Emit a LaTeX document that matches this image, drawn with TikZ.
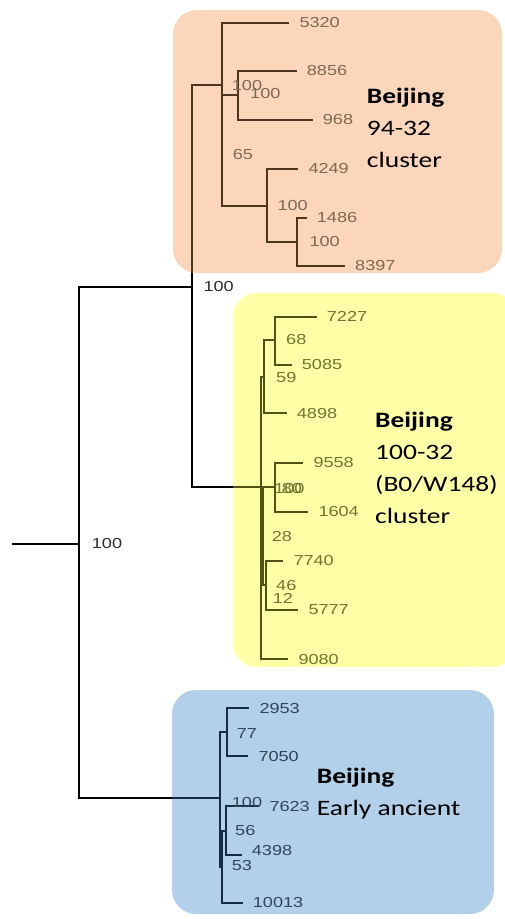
\documentclass[tikz,border=0pt]{standalone}
\usepackage{fontspec}
\usepackage{xcolor}
\usetikzlibrary{positioning}
\newfontfamily\tipfamily[FakeStretch=1.25]{Liberation Sans}
\newfontfamily\namefamily[FakeStretch=1.25]{Carlito}
\newcommand\tipfont{\tipfamily\fontsize{14.5}{16}\selectfont}
\newcommand\cladefont{\namefamily\fontsize{22}{32}\selectfont}
\definecolor{orangebg}{RGB}{251,214,186}
\definecolor{yellowbg}{RGB}{255,255,168}
\definecolor{bluebg}{RGB}{178,208,233}
\definecolor{obranch}{RGB}{78,54,30}
\definecolor{ybranch}{RGB}{82,82,20}
\definecolor{bbranch}{RGB}{22,44,68}
\definecolor{otext}{RGB}{125,105,85}
\definecolor{ytext}{RGB}{115,115,50}
\definecolor{btext}{RGB}{50,68,90}
\definecolor{ktext}{RGB}{45,45,45}

\begin{document}
\begin{tikzpicture}[x=1pt, y=-1pt,
    branch/.style={line width=2pt},
    tipline/.style={branch, shorten >=10pt},
    tip/.style={anchor=west, inner sep=0pt, font=\tipfont},
    clade/.style={rounded corners=24pt},
    cladename/.style={anchor=north west, inner sep=0pt, align=left, font=\cladefont}
]
    \useasboundingbox (0,0) rectangle (504,919);
    \fill[orangebg, clade] (173,10) rectangle (502,273);
    \fill[yellowbg, clade] (233,293) rectangle (516,667);
    \fill[bluebg, clade] (172,690) rectangle (494,914);

    \coordinate (r0) at (12,544);
    \coordinate (nR) at (79,544);
    \coordinate (nU) at (191.7,286.7);
    \coordinate (oEdge) at (191.7,273);
    \coordinate (yEdge) at (233,486.7);
    \coordinate (bEdge) at (172,798.3);

    \draw[branch] (r0) -- (nR) |- (nU);
    \draw[branch] (nR) |- (bEdge);
    \draw[branch] (nU) -- (oEdge);
    \draw[branch] (nU) |- (yEdge);
    \node[tip, text=ktext] (sRoot) at (91.7,544) {100};
    \node[tip, text=ktext] (sUp) at (203.3,287) {100};

    % 94-32 cluster
    \coordinate (nO) at (222,85);
    \coordinate (o100a) at (238,95.3);
    \coordinate (o100b) at (267,206);
    \coordinate (o100c) at (297,242);
    \node[tip, text=otext] (t5320) at (299.3,23) {5320};
    \node[tip, text=otext] (t8856) at (306.7,71) {8856};
    \node[tip, text=otext] (t968) at (322.7,120) {968};
    \node[tip, text=otext] (t4249) at (308.3,169) {4249};
    \node[tip, text=otext] (t1486) at (316.7,218) {1486};
    \node[tip, text=otext] (t8397) at (355,266) {8397};

    \draw[branch, obranch] (oEdge) |- (nO);
    \draw[tipline, obranch] (nO) |- (t5320.west);
    \draw[branch, obranch] (nO) |- (o100a);
    \draw[branch, obranch] (nO) |- (o100b);
    \draw[tipline, obranch] (o100a) |- (t8856.west);
    \draw[tipline, obranch] (o100a) |- (t968.west);
    \draw[tipline, obranch] (o100b) |- (t4249.west);
    \draw[branch, obranch] (o100b) |- (o100c);
    \draw[tipline, obranch] (o100c) |- (t1486.west);
    \draw[tipline, obranch] (o100c) |- (t8397.west);

    \node[tip, text=otext] (sO1) at (231.7,86) {100};
    \node[tip, text=otext] (sO2) at (250,94) {100};
    \node[tip, text=otext] (sO3) at (232.7,155) {65};
    \node[tip, text=otext] (sO4) at (277.3,206) {100};
    \node[tip, text=otext] (sO5) at (309.3,242) {100};

    % 100-32 cluster
    \coordinate (nY) at (260.5,486.7);
    \coordinate (y59) at (264.3,377.3);
    \coordinate (y68) at (275,340);
    \coordinate (y28) at (262.8,533);
    \coordinate (y100) at (275,486.7);
    \coordinate (y46) at (265.5,585);
    \node[tip, text=ytext] (t7227) at (326.7,316.7) {7227};
    \node[tip, text=ytext] (t5085) at (301.7,365) {5085};
    \node[tip, text=ytext] (t4898) at (296.7,413.3) {4898};
    \node[tip, text=ytext] (t9558) at (313.3,462.7) {9558};
    \node[tip, text=ytext] (t1604) at (318.3,511.7) {1604};
    \node[tip, text=ytext] (t7740) at (293.3,560.7) {7740};
    \node[tip, text=ytext] (t5777) at (308.3,610) {5777};
    \node[tip, text=ytext] (t9080) at (298.3,659.3) {9080};

    \draw[branch, ybranch] (yEdge) -- (nY);
    \draw[branch, ybranch] (nY) |- (y59);
    \draw[branch, ybranch] (nY) |- (y28);
    \draw[tipline, ybranch] (nY) |- (t9080.west);
    \draw[branch, ybranch] (y59) |- (y68);
    \draw[tipline, ybranch] (y59) |- (t4898.west);
    \draw[tipline, ybranch] (y68) |- (t7227.west);
    \draw[tipline, ybranch] (y68) |- (t5085.west);
    \draw[branch, ybranch] (y28) |- (y100);
    \draw[branch, ybranch] (y28) |- (y46);
    \draw[tipline, ybranch] (y100) |- (t9558.west);
    \draw[tipline, ybranch] (y100) |- (t1604.west);
    \draw[tipline, ybranch] (y46) |- (t7740.west);
    \draw[tipline, ybranch] (y46) |- (t5777.west);

    \node[tip, text=ytext] (sY1) at (286,340) {68};
    \node[tip, text=ytext] (sY2) at (276,377.3) {59};
    \node[tip, text=ytext] (sY3) at (274,489) {100};
    \node[tip, text=ytext] (sY4) at (281.7,489) {80};
    \node[tip, text=ytext] (sY5) at (271.7,536.7) {28};
    \node[tip, text=ytext] (sY6) at (276,585) {46};
    \node[tip, text=ytext] (sY7) at (272.7,598.3) {12};

    % early ancient
    \coordinate (nB) at (220,798.3);
    \coordinate (b77) at (226.7,731.7);
    \coordinate (b53) at (222,866.7);
    \coordinate (b56) at (226,830.7);
    \node[tip, text=btext] (t2953) at (259.3,708.3) {2953};
    \node[tip, text=btext] (t7050) at (258.3,756) {7050};
    \node[tip, text=btext] (t7623) at (269.3,806) {7623};
    \node[tip, text=btext] (t4398) at (251.7,850) {4398};
    \node[tip, text=btext] (t10013) at (252.7,902.7) {10013};

    \draw[branch, bbranch] (bEdge) -- (nB);
    \draw[branch, bbranch] (nB) |- (b77);
    \draw[branch, bbranch] (nB) |- (b53);
    \draw[tipline, bbranch] (b77) |- (t2953.west);
    \draw[tipline, bbranch] (b77) |- (t7050.west);
    \draw[branch, bbranch] (b53) |- (b56);
    \draw[tipline, bbranch] (b53) |- (t10013.west);
    \draw[tipline, bbranch] (b56) |- (t7623.west);
    \draw[tipline, bbranch] (b56) |- ([yshift=-5pt]t4398.west);

    \node[tip, text=btext] (sB1) at (236.7,733.3) {77};
    \node[tip, text=btext] (sB2) at (231.7,802.7) {100};
    \node[tip, text=btext] (sB3) at (235,830.7) {56};
    \node[tip, text=btext] (sB4) at (231.7,865) {53};

    \node[cladename] (nameO) at (366.7,87.7) {\textbf{Beijing}\\94-32\\cluster};
    \node[cladename] (nameY) at (375,411.7) {\textbf{Beijing}\\100-32\\(B0/W148)\\cluster};
    \node[cladename] (nameB) at (316.7,768.3) {\textbf{Beijing}\\Early ancient};
\end{tikzpicture}
\end{document}
